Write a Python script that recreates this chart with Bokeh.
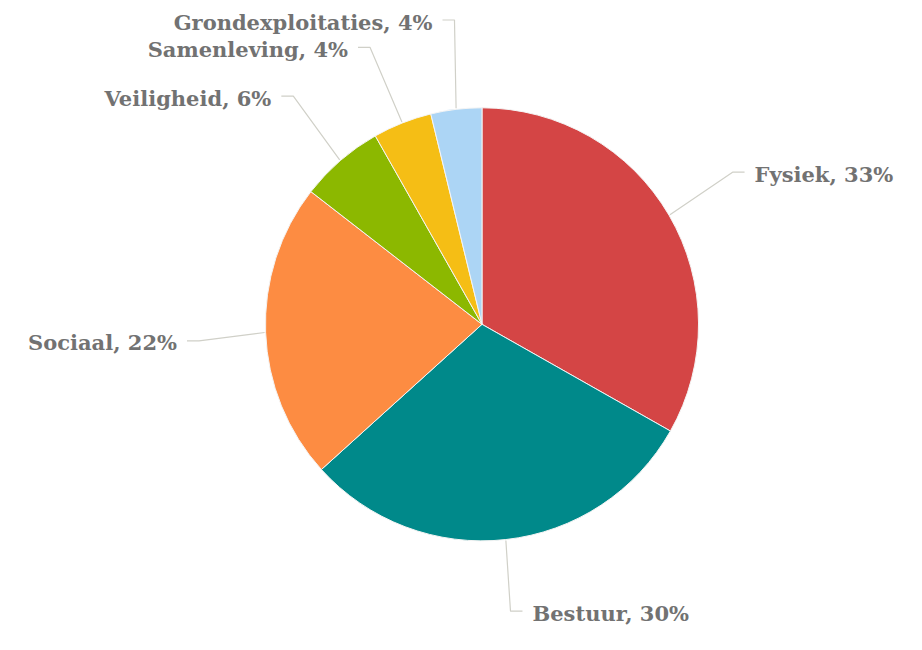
import math
from bokeh.plotting import figure
from bokeh.models import Range1d, ColumnDataSource
from bokeh.core.properties import value
from bokeh.embed import file_html
from bokeh.resources import INLINE

# ---- data ----
categories = ["Fysiek", "Bestuur", "Sociaal", "Veiligheid", "Samenleving", "Grondexploitaties"]
shares = [33.2, 30.1, 22.2, 6.3, 4.4, 3.8]
colors = ["#d44545", "#00898a", "#fd8c42", "#8cb800", "#f5be15", "#acd5f5"]

# ---- layout ----
W, H = 906, 634
SX, SY = W / 922, H / 650

def to_data(x, y):
    # reference-image pixel -> data coords (y up)
    return x * SX, H - y * SY

CX, CY = to_data(490, 332)
R = 222 * SY
elbows = [(745, 176), (519, 626), (202, 349), (298, 98), (376, 48), (462, 20)]
sides = [1, 1, -1, -1, -1, -1]
SEG, GAP = 12, 10

p = figure(width=W, height=H, x_range=Range1d(0, W), y_range=Range1d(0, H),
           output_backend="svg", toolbar_location=None, min_border=0)
p.axis.visible = False
p.grid.visible = False
p.outline_line_color = None

total = sum(shares)
starts, ends, mids = [], [], []
cum = 0.0
for s in shares:
    a0 = math.pi / 2 - 2 * math.pi * cum / total
    cum += s
    a1 = math.pi / 2 - 2 * math.pi * cum / total
    starts.append(a0)
    ends.append(a1)
    mids.append((a0 + a1) / 2)

src = ColumnDataSource(dict(start=starts, end=ends, color=colors))
p.wedge(x=CX, y=CY, radius=R, start_angle="start", end_angle="end", direction="clock",
        fill_color="color", line_color="#f4f4f4", line_width=1, source=src)

labels = [f"{c}, {round(s)}%" for c, s in zip(categories, shares)]
xs_lines, ys_lines = [], []
tx, ty, align = [], [], []
for m, (ex, ey), side, lab in zip(mids, elbows, sides, labels):
    sx = CX + (R + 1) * math.cos(m)
    sy = CY + (R + 1) * math.sin(m)
    exd, eyd = to_data(ex, ey)
    xs_lines.append([sx, exd, exd + side * SEG])
    ys_lines.append([sy, eyd, eyd])
    tx.append(exd + side * (SEG + GAP))
    ty.append(eyd - 2)
    align.append("left" if side > 0 else "right")

p.multi_line(xs=xs_lines, ys=ys_lines, line_color="#d0d0c8", line_width=1.2)
tsrc = ColumnDataSource(dict(x=tx, y=ty, text=labels, align=align))
p.text(x="x", y="y", text="text", text_align="align", text_baseline="middle",
       text_font=value("DejaVu Serif"), text_font_size="21px", text_font_style="bold",
       text_color="#727272", source=tsrc)

open("out.html", "w").write(file_html(p, INLINE))
